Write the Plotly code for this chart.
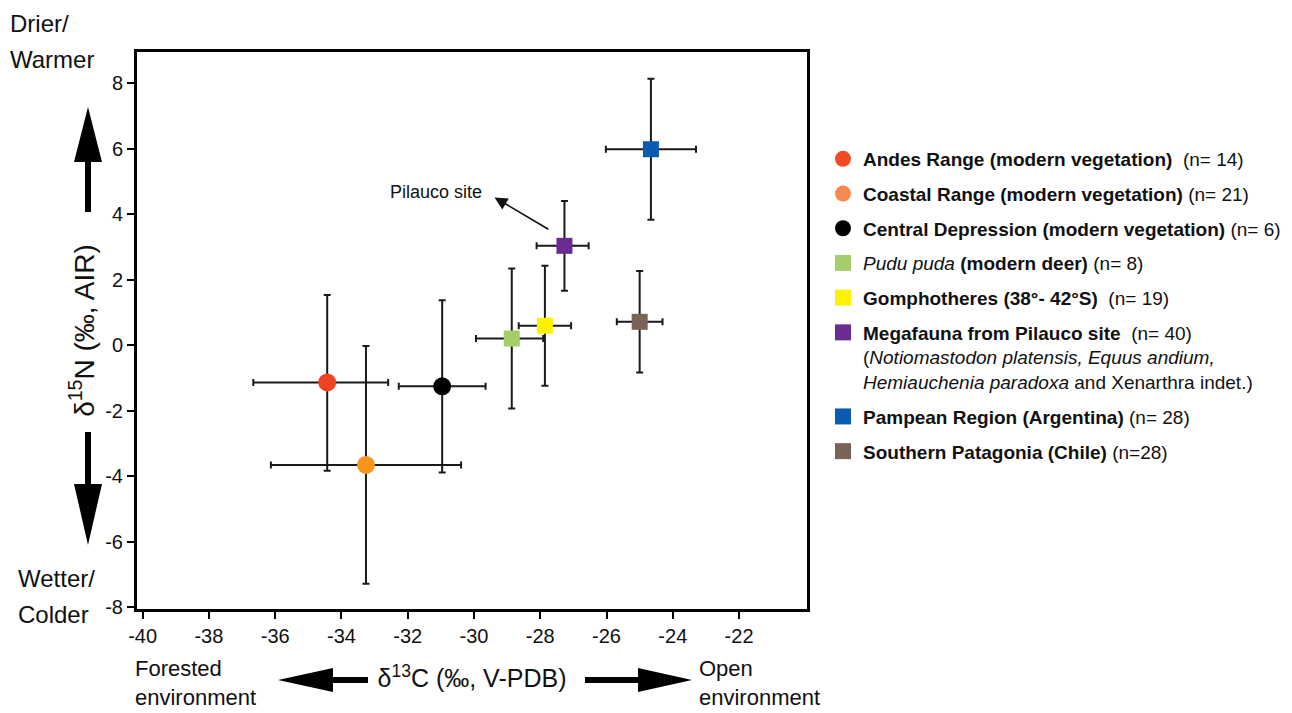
import plotly.graph_objects as go

# ---------------- data ----------------
names = ["Andes Range", "Coastal Range", "Central Depression", "Pudu puda",
         "Gomphotheres", "Megafauna Pilauco", "Pampean Region", "Southern Patagonia"]
legend_labels = [
    "<b>Andes Range (modern vegetation)</b>  (n= 14)",
    "<b>Coastal Range (modern vegetation)</b> (n= 21)",
    "<b>Central Depression (modern vegetation)</b> (n= 6)",
    "<i>Pudu puda</i> <b>(modern deer)</b> (n= 8)",
    "<b>Gomphotheres (38°- 42°S)</b>  (n= 19)",
    "<b>Megafauna from Pilauco site</b>  (n= 40)<br>(<i>Notiomastodon platensis, Equus andium,</i><br><i>Hemiauchenia paradoxa</i> and Xenarthra indet.)",
    "<b>Pampean Region (Argentina)</b> (n= 28)",
    "<b>Southern Patagonia (Chile)</b> (n=28)",
]
d13C = [-34.43, -33.26, -30.96, -28.86, -27.86, -27.27, -24.66, -25.00]
d15N = [-1.13, -3.65, -1.25, 0.21, 0.60, 3.04, 5.99, 0.72]
d13C_err_minus = [2.23, 2.87, 1.31, 1.08, 0.79, 0.84, 1.36, 0.69]
d13C_err_plus = [1.84, 2.87, 1.31, 0.95, 0.79, 0.73, 1.36, 0.69]
d15N_err_minus = [2.70, 3.63, 2.63, 2.14, 1.83, 1.37, 2.15, 1.55]
d15N_err_plus = [2.67, 3.63, 2.63, 2.14, 1.83, 1.37, 2.15, 1.55]
symbols = ["circle", "circle", "circle", "square", "square", "square", "square", "square"]
colors = ["#EE4423", "#F7941D", "#000000", "#A5CD6A", "#FFF200", "#6B2C91", "#0B5CB0", "#7A6457"]
legend_colors = ["#F04A24", "#F48A50", "#000000", "#A5CD6A", "#FFF200", "#6B2C91", "#0B5CB0", "#7A6457"]

x_ticks = [-40, -38, -36, -34, -32, -30, -28, -26, -24, -22]
y_ticks = [-8, -6, -4, -2, 0, 2, 4, 6, 8]

pilauco_label = "Pilauco site"
pilauco_label_pos = (-31.15, 4.68)
pilauco_arrow_tip = (-29.38, 4.52)
pilauco_arrow_tail = (-27.71, 3.52)

# ---------------- layout helpers ----------------
OFF = 8                       # page body margin
FIG_W, FIG_H = 1292 - OFF, 713 - OFF
L, T, W, H = 137 - OFF, 52 - OFF, 670, 557
FONT = "Liberation Sans, Arial, Helvetica, sans-serif"
TXT = "#111111"


def pxx(x):
    """screen pixel x -> paper coordinate"""
    return (x - OFF - L) / W


def pxy(y):
    """screen pixel y -> paper coordinate"""
    return (T + H - (y - OFF)) / H


def poly_path(pts):
    return "M " + " L ".join(f"{pxx(a):.5f},{pxy(b):.5f}" for a, b in pts) + " Z"


fig = go.Figure()

for i in range(len(names)):
    fig.add_trace(go.Scatter(
        x=[d13C[i]], y=[d15N[i]], mode="markers", name=names[i],
        marker=dict(symbol=symbols[i], size=18 if symbols[i] == "circle" else 16,
                    color=colors[i], line=dict(width=0)),
        error_x=dict(type="data", symmetric=False, array=[d13C_err_plus[i]],
                     arrayminus=[d13C_err_minus[i]], color="#1a1a1a", thickness=2, width=3.5),
        error_y=dict(type="data", symmetric=False, array=[d15N_err_plus[i]],
                     arrayminus=[d15N_err_minus[i]], color="#1a1a1a", thickness=2, width=3.5),
        showlegend=False, hoverinfo="skip",
    ))

for i in range(len(names)):
    fig.add_trace(go.Scatter(
        x=[None], y=[None], mode="markers", name=legend_labels[i],
        legendgroup=f"g{i}",
        marker=dict(symbol=symbols[i], size=16, color=legend_colors[i], line=dict(width=0)),
        showlegend=True,
    ))

# big direction arrows (decorative), defined in screen pixel space
shapes = []
arrow_polys = [
    [(85, 212), (85, 162), (74, 162), (88, 107), (102, 162), (91, 162), (91, 212)],
    [(85, 432), (85, 484), (74, 484), (88, 545), (102, 484), (91, 484), (91, 432)],
    [(368, 677), (333, 677), (333, 668), (278, 680), (333, 692), (333, 683), (368, 683)],
    [(585, 677), (638, 677), (638, 668), (692, 680), (638, 692), (638, 683), (585, 683)],
]
for poly in arrow_polys:
    shapes.append(dict(type="path", xref="paper", yref="paper", path=poly_path(poly),
                       fillcolor="#000000", line=dict(width=0), layer="above"))

annotations = []
# single-line side labels: (text, left x, center y)
side_texts = [
    ("Drier/", 8, 24), ("Warmer", 8, 59),
    ("Wetter/", 16, 578), ("Colder", 16, 614),
]
for txt, x0, y0 in side_texts:
    annotations.append(dict(text=txt, xref="paper", yref="paper", x=pxx(x0), y=pxy(y0),
                            xanchor="left", yanchor="middle", showarrow=False,
                            font=dict(family=FONT, size=24, color=TXT)))
# two-line labels under the x axis: (text, left x, bottom y)
bottom_texts = [
    ("Forested<br>environment", 133, 712),
    ("Open<br>environment", 697, 712),
]
for txt, x0, y0 in bottom_texts:
    annotations.append(dict(text=txt, xref="paper", yref="paper", x=pxx(x0), y=pxy(y0),
                            xanchor="left", yanchor="bottom", align="left", showarrow=False,
                            font=dict(family=FONT, size=22, color=TXT)))

annotations.append(dict(text=pilauco_label, x=pilauco_label_pos[0], y=pilauco_label_pos[1],
                        xref="x", yref="y", showarrow=False, xanchor="center", yanchor="middle",
                        font=dict(family=FONT, size=18, color=TXT)))
annotations.append(dict(text="", x=pilauco_arrow_tip[0], y=pilauco_arrow_tip[1],
                        ax=pilauco_arrow_tail[0], ay=pilauco_arrow_tail[1],
                        xref="x", yref="y", axref="x", ayref="y",
                        showarrow=True, arrowhead=2, arrowsize=1.6, arrowwidth=1.6,
                        arrowcolor="#111111", standoff=0))

fig.update_layout(
    width=FIG_W, height=FIG_H,
    margin=dict(l=L, r=FIG_W - L - W, t=T, b=FIG_H - T - H, autoexpand=False),
    paper_bgcolor="white", plot_bgcolor="white",
    font=dict(family=FONT, color=TXT),
    shapes=shapes, annotations=annotations,
    legend=dict(x=pxx(823), y=pxy(140), xanchor="left", yanchor="top",
                font=dict(family=FONT, size=19, color=TXT),
                bgcolor="rgba(0,0,0,0)", borderwidth=0,
                tracegroupgap=7, traceorder="grouped", valign="top",
                itemclick=False, itemdoubleclick=False),
    xaxis=dict(range=[-40.17, -19.95], tickvals=x_ticks, ticktext=[str(v) for v in x_ticks],
               ticks="outside", ticklen=7, tickwidth=2, tickcolor="#000",
               showline=True, linewidth=3, linecolor="#000", mirror=True,
               showgrid=False, zeroline=False,
               tickfont=dict(family=FONT, size=20, color=TXT),
               title=dict(text="δ<sup>13</sup>C (‰, V-PDB)", standoff=24,
                          font=dict(family=FONT, size=25, color=TXT))),
    yaxis=dict(range=[-8.05, 8.96], tickvals=y_ticks, ticktext=[str(v) for v in y_ticks],
               ticks="outside", ticklen=7, tickwidth=2, tickcolor="#000",
               showline=True, linewidth=3, linecolor="#000", mirror=True,
               showgrid=False, zeroline=False,
               tickfont=dict(family=FONT, size=20, color=TXT),
               title=dict(text="δ<sup>15</sup>N (‰, AIR)", standoff=3,
                          font=dict(family=FONT, size=28, color=TXT))),
)

fig.write_html("out.html")
